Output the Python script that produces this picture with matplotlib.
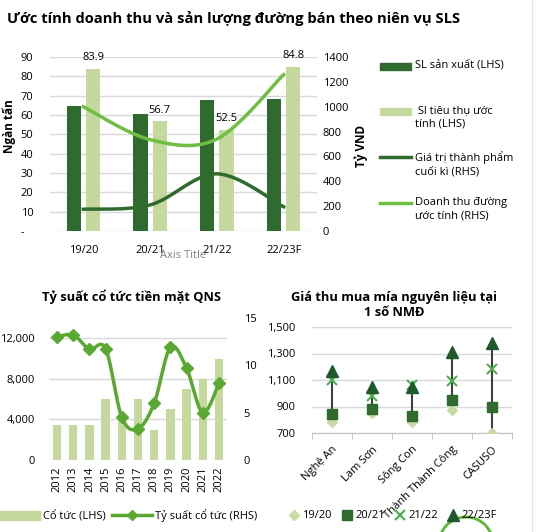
import numpy as np
import matplotlib
matplotlib.use("Agg")
import matplotlib.pyplot as plt
from matplotlib.lines import Line2D
from matplotlib.patches import Patch, Rectangle, Ellipse
from matplotlib.ticker import FuncFormatter

plt.rcParams['font.family'] = ['Open Sans', 'DejaVu Sans']

W, H = 536, 532

# --- chart 1: SLS sugar output / revenue by season ---
seasons = ['19/20', '20/21', '21/22', '22/23F']
sl_san_xuat = [64.8, 60.6, 67.9, 68.2]        # LHS, nghin tan
sl_tieu_thu = [83.9, 56.7, 52.5, 84.8]        # LHS
gia_tri_tp = [175, 210, 460, 195]             # RHS, ty VND
doanh_thu = [1000, 735, 740, 1258]            # RHS

# --- chart 2: QNS cash dividend ---
years = ['2012', '2013', '2014', '2015', '2016', '2017',
         '2018', '2019', '2020', '2021', '2022']
co_tuc = [3500, 3500, 3500, 6000, 4000, 6000, 3000, 5000, 7000, 8000, 10000]
ty_suat = [13.0, 13.2, 11.7, 11.75, 4.5, 3.3, 6.0, 11.9, 9.7, 5.0, 8.1]

# --- chart 3: cane purchase price at some mills ---
nha_may = ['Nghệ An', 'Lam Sơn', 'Sông Con', 'Thành Thành Công', 'CASUSO']
gia_1920 = [780, 850, 780, 870, 700]
gia_2021 = [840, 880, 830, 950, 900]
gia_2122 = [1100, 980, 1060, 1090, 1180]
gia_2223 = [1170, 1050, 1050, 1310, 1380]

DARK = '#2f6b2f'
LIGHT = '#c5d89d'
LINE_LIGHT = '#6fbe44'
MID = '#58a832'
GRID = '#d9d9d9'


def rect(l, t, r, b):
    # pixel box -> figure fraction
    return [l / W, 1 - b / H, (r - l) / W, (b - t) / H]


def smooth(x, y, n=30):
    # excel-like smoothed line (bezier through the points)
    p = np.column_stack([np.asarray(x, float), np.asarray(y, float)])
    p = np.vstack([p[0], p, p[-1]])
    out = []
    for i in range(1, len(p) - 2):
        p0, p1 = p[i], p[i + 1]
        c1 = p0 + (p[i + 1] - p[i - 1]) / 6
        c2 = p1 - (p[i + 2] - p[i]) / 6
        t = np.linspace(0, 1, n)[:, None]
        seg = ((1 - t) ** 3) * p0 + 3 * ((1 - t) ** 2) * t * c1 + 3 * (1 - t) * t ** 2 * c2 + t ** 3 * p1
        out.append(seg if i == 1 else seg[1:])
    out = np.vstack(out)
    return out[:, 0], out[:, 1]


def clean(ax):
    for s in ax.spines.values():
        s.set_visible(False)


fig = plt.figure(figsize=(W / 100, H / 100), dpi=100)
fig.patch.set_facecolor('white')

# ================= chart 1 =================
fig.text(7 / W, 1 - 18 / H, 'Ước tính doanh thu và sản lượng đường bán theo niên vụ SLS',
         fontsize=10.6, fontweight='bold', ha='left', va='center')

ax1 = fig.add_axes(rect(50, 57, 317, 231))
x = np.arange(len(seasons))
ax1.bar(x - 0.145, sl_san_xuat, 0.215, color=DARK, zorder=2)
ax1.bar(x + 0.145, sl_tieu_thu, 0.215, color=LIGHT, zorder=2)
for xi, v in zip(x, sl_tieu_thu):
    ax1.annotate(f'{v:.1f}', (xi + 0.145, v), xytext=(0, 4), textcoords='offset points',
                 ha='center', va='bottom', fontsize=8)
ax1.set_xlim(-0.5, 3.5)
ax1.set_ylim(0, 90)
ax1.set_yticks(range(0, 91, 10))
ax1.set_yticklabels(['-   '] + [str(v) for v in range(10, 91, 10)])
ax1.set_xticks(x)
ax1.set_xticklabels(seasons)
ax1.grid(axis='y', color=GRID, lw=1)
ax1.set_axisbelow(True)
ax1.tick_params(axis='y', length=0, labelsize=8, pad=12)
ax1.tick_params(axis='x', length=0, labelsize=8, pad=10)
ax1.set_ylabel('Ngàn tấn', fontsize=8.5, fontweight='bold')
ax1.yaxis.set_label_coords(-0.128, 0.60)
ax1.set_xlabel('Axis Title', fontsize=8, color='#7f7f7f')
ax1.xaxis.set_label_coords(0.5, -0.11)
clean(ax1)

ax1b = ax1.twinx()
ax1b.set_ylim(0, 1400)
ax1b.set_yticks(range(0, 1401, 200))
sx, sy = smooth(x, doanh_thu)
ax1b.plot(sx, sy, color=LINE_LIGHT, lw=2.5)
sx, sy = smooth(x, gia_tri_tp)
ax1b.plot(sx, sy, color=DARK, lw=2.5)
ax1b.tick_params(axis='y', length=0, labelsize=8, pad=4)
ax1b.set_ylabel('Tỷ VND', fontsize=8.5, fontweight='bold')
ax1b.yaxis.set_label_coords(1.142, 0.49)
clean(ax1b)

# ================= chart 2 =================
fig.text(131 / W, 1 - 297 / H, 'Tỷ suất cổ tức tiền mặt QNS',
         fontsize=9.3, fontweight='bold', ha='center', va='center')

ax2 = fig.add_axes(rect(49, 318, 227, 460))
x2 = np.arange(len(years))
ax2.bar(x2, co_tuc, 0.52, color=LIGHT, zorder=2, label='Cổ tức (LHS)')
ax2.set_xlim(-0.5, len(years) - 0.5)
ax2.set_ylim(0, 14000)
ax2.set_yticks([0, 4000, 8000, 12000])
ax2.yaxis.set_major_formatter(FuncFormatter(lambda v, p: f'{v:,.0f}'))
ax2.set_xticks(x2)
ax2.set_xticklabels(years, rotation=90)
ax2.grid(axis='y', color=GRID, lw=1)
ax2.set_axisbelow(True)
ax2.tick_params(axis='y', length=0, labelsize=8, pad=10)
ax2.tick_params(axis='x', length=0, labelsize=8, pad=5)
clean(ax2)

ax2b = ax2.twinx()
ax2b.set_ylim(0, 15)
ax2b.set_yticks([0, 5, 10, 15])
sx, sy = smooth(x2, ty_suat)
ax2b.plot(sx, sy, color=MID, lw=2.5)
ax2b.plot(x2, ty_suat, ls='none', marker='D', ms=6, color=MID)
ax2b.tick_params(axis='y', length=0, labelsize=8, pad=12)
clean(ax2b)

fig.legend(handles=[Patch(color=LIGHT, label='Cổ tức (LHS)'),
                    Line2D([], [], color=MID, lw=2.5, marker='D', ms=5,
                           label='Tỷ suất cổ tức (RHS)')],
           loc='center left', bbox_to_anchor=(0 / W, 1 - 516 / H), ncol=2,
           frameon=False, fontsize=8, handlelength=3.6, handleheight=0.8,
           handletextpad=0.3, columnspacing=0.5, borderpad=0, borderaxespad=0)

# ================= chart 3 =================
fig.text(394 / W, 1 - 305 / H, 'Giá thu mua mía nguyên liệu tại\n1 số NMĐ',
         fontsize=9.3, fontweight='bold', ha='center', va='center', linespacing=1.25)

ax3 = fig.add_axes(rect(312, 327, 512, 433))
x3 = np.arange(len(nha_may))
all_gia = np.array([gia_1920, gia_2021, gia_2122, gia_2223])
ax3.vlines(x3, all_gia.min(axis=0), all_gia.max(axis=0), color='#404040', lw=1.5, zorder=2)
ax3.plot(x3, gia_1920, ls='none', marker='D', ms=5, color='#c8dba0', label='19/20', zorder=3)
ax3.plot(x3, gia_2021, ls='none', marker='s', ms=7, color=DARK, label='20/21', zorder=3)
ax3.plot(x3, gia_2122, ls='none', marker='x', ms=7, mew=1.5, color='#4caf50', label='21/22', zorder=3)
ax3.plot(x3, gia_2223, ls='none', marker='^', ms=8, color='#1f5a2c', label='22/23F', zorder=3)
ax3.set_xlim(-0.5, len(nha_may) - 0.5)
ax3.set_ylim(700, 1500)
ax3.set_yticks([700, 900, 1100, 1300, 1500])
ax3.yaxis.set_major_formatter(FuncFormatter(lambda v, p: f'{v:,.0f}'))
ax3.set_xticks(x3)
ax3.set_xticklabels(nha_may, rotation=45, ha='right', rotation_mode='anchor')
ax3.set_xticks(np.arange(-0.5, len(nha_may)), minor=True)
ax3.grid(axis='y', color=GRID, lw=1)
ax3.set_axisbelow(True)
ax3.tick_params(axis='y', length=0, labelsize=8, pad=12)
ax3.tick_params(axis='x', which='major', length=0, labelsize=8, pad=8)
ax3.tick_params(axis='x', which='minor', length=4, color='#bfbfbf')
clean(ax3)
ax3.spines['bottom'].set_visible(True)
ax3.spines['bottom'].set_color('#bfbfbf')

fig.legend(handles=ax3.get_legend_handles_labels()[0],
           loc='center left', bbox_to_anchor=(290 / W, 1 - 516 / H), ncol=4,
           frameon=False, fontsize=8, handlelength=0.8, handletextpad=0.3,
           columnspacing=1.0, borderpad=0, borderaxespad=0)

# ================= overlay: chart-1 legend, decorations =================
ov = fig.add_axes([0, 0, 1, 1])
ov.set_xlim(0, W)
ov.set_ylim(H, 0)
ov.axis('off')

legend1 = [('bar', DARK, 'SL sản xuất (LHS)'),
           ('bar', LIGHT, ' Sl tiêu thụ ước\ntính (LHS)'),
           ('line', DARK, 'Giá trị thành phẩm\ncuối kì (RHS)'),
           ('line', LINE_LIGHT, 'Doanh thu đường\nước tính (RHS)')]
for i, (kind, col, lab) in enumerate(legend1):
    yy = 66 + i * 45.7
    if kind == 'bar':
        ov.add_patch(Rectangle((380, yy - 3.5), 31, 7, color=col))
    else:
        ov.add_line(Line2D([380, 411], [yy, yy], color=col, lw=2.5))
    ov.text(415, yy - 6.5, lab, fontsize=8, ha='left', va='top', linespacing=1.3)

ov.add_line(Line2D([532, 532], [0, H], color='#e6e6e6', lw=1))
ov.add_patch(Ellipse((466, 544), 54, 54, fill=False, edgecolor='#5cb82e', lw=2, clip_on=False))

fig.savefig('out.png', dpi=100)
